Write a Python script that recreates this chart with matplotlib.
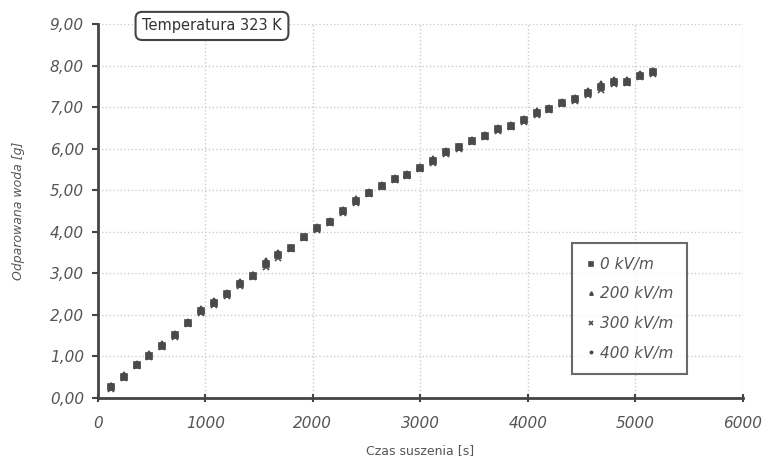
import numpy as np
import matplotlib.pyplot as plt
from matplotlib.ticker import FuncFormatter

# drying time [s]
czas = [120 * (i + 1) for i in range(43)]

# evaporated water [g]
woda_0 = [0.26, 0.50, 0.79, 1.01, 1.25, 1.52, 1.80, 2.09, 2.28, 2.50,
          2.74, 2.94, 3.22, 3.44, 3.61, 3.87, 4.09, 4.23, 4.50, 4.74,
          4.93, 5.10, 5.27, 5.37, 5.53, 5.70, 5.92, 6.04, 6.18, 6.30,
          6.47, 6.54, 6.69, 6.86, 6.95, 7.10, 7.19, 7.34, 7.48, 7.60,
          7.60, 7.75, 7.84]
woda_200 = [0.30, 0.55, 0.81, 1.05, 1.30, 1.55, 1.82, 2.15, 2.33, 2.52,
            2.80, 2.97, 3.30, 3.50, 3.62, 3.88, 4.12, 4.25, 4.52, 4.78,
            4.95, 5.12, 5.30, 5.40, 5.55, 5.75, 5.95, 6.05, 6.20, 6.33,
            6.50, 6.55, 6.72, 6.90, 6.98, 7.12, 7.22, 7.40, 7.55, 7.65,
            7.65, 7.80, 7.88]
woda_300 = [0.22, 0.47, 0.77, 0.98, 1.22, 1.48, 1.78, 2.05, 2.25, 2.46,
            2.70, 2.92, 3.15, 3.38, 3.58, 3.85, 4.05, 4.20, 4.46, 4.70,
            4.90, 5.07, 5.24, 5.34, 5.50, 5.66, 5.88, 6.00, 6.15, 6.27,
            6.42, 6.52, 6.65, 6.82, 6.92, 7.07, 7.16, 7.30, 7.42, 7.56,
            7.57, 7.72, 7.80]
woda_400 = [0.28, 0.52, 0.80, 1.03, 1.27, 1.50, 1.81, 2.10, 2.30, 2.48,
            2.76, 2.95, 3.25, 3.46, 3.60, 3.86, 4.10, 4.24, 4.48, 4.76,
            4.92, 5.09, 5.28, 5.36, 5.52, 5.72, 5.90, 6.03, 6.17, 6.31,
            6.45, 6.56, 6.68, 6.88, 6.96, 7.09, 7.20, 7.36, 7.50, 7.62,
            7.58, 7.77, 7.86]

serie = [("0 kV/m", woda_0, "s"),
         ("200 kV/m", woda_200, "^"),
         ("300 kV/m", woda_300, "x"),
         ("400 kV/m", woda_400, "*")]

szary = "#555555"
plt.rcParams['font.family'] = ['DejaVu Sans']

fig = plt.figure(figsize=(7.64, 4.63), dpi=100)
ax = fig.add_axes([0.128, 0.1404, 0.8445, 0.8076])

for nazwa, woda, znak in serie:
    ax.plot(czas, woda, linestyle="none", marker=znak, markersize=4,
            color="#4a4a4a", markeredgewidth=1.2, label=nazwa)

ax.set_xlim(0, 6000)
ax.set_ylim(0, 9)
ax.set_xticks(range(0, 6001, 1000))
ax.set_yticks(range(0, 10))
ax.yaxis.set_major_formatter(FuncFormatter(lambda v, p: f"{v:.2f}".replace(".", ",")))

ax.grid(True, linestyle=":", color="#cccccc", linewidth=1)
ax.set_axisbelow(True)
for s in ("top", "right"):
    ax.spines[s].set_visible(False)
for s in ("left", "bottom"):
    ax.spines[s].set_linewidth(2)
    ax.spines[s].set_color("#444444")

ax.tick_params(axis="y", direction="out", length=4, width=1.5, colors="#444444",
               labelcolor=szary, labelsize=11, pad=6)
ax.tick_params(axis="x", direction="inout", length=6, width=1.5, colors="#444444",
               labelcolor=szary, labelsize=11, pad=10)
for lab in ax.get_xticklabels() + ax.get_yticklabels():
    lab.set_style("italic")

ax.set_xlabel("Czas suszenia [s]", color=szary, fontsize=9, labelpad=9)
ax.set_ylabel("Odparowana woda [g]", color=szary, fontsize=9, style="italic", labelpad=18)

ax.text(0.177, 0.995, "Temperatura 323 K", transform=ax.transAxes, fontsize=10.5,
        color="#333333", ha="center", va="center",
        bbox=dict(boxstyle="round,pad=0.45", fc="white", ec="#444444", lw=1.5))

leg = ax.legend(loc="lower right", bbox_to_anchor=(0.925, 0.043), frameon=True,
                fancybox=False, edgecolor="#444444", fontsize=11,
                handlelength=0.6, handletextpad=0.3, labelspacing=0.95,
                borderpad=0.9, markerscale=0.6)
leg.get_frame().set_linewidth(1.5)
for t in leg.get_texts():
    t.set_color(szary)
    t.set_style("italic")

fig.savefig("out.png", dpi=100)
